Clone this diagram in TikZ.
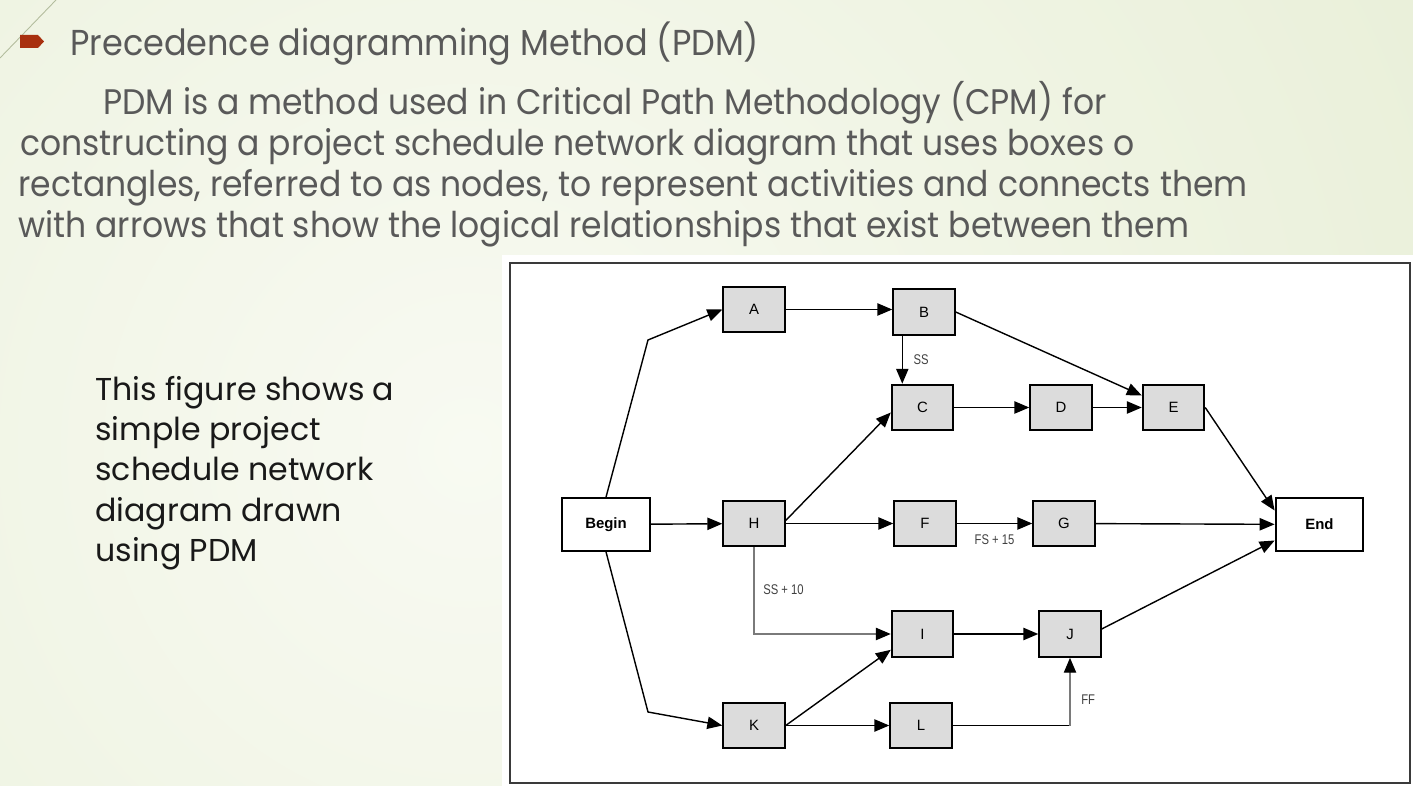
\documentclass[tikz,border=0pt]{standalone}
\usepackage{fontspec}
\usetikzlibrary{arrows.meta,calc}
\newfontfamily\gothic[FakeStretch=0.93]{Poppins}
\newfontfamily\gothicwide{Poppins}
\newfontfamily\helv{Liberation Sans}
\newfontfamily\narrowfont[FakeStretch=0.8]{Liberation Sans}
\definecolor{bgpale}{HTML}{F8FAF2}
\definecolor{bggreen}{HTML}{DAE5BF}
\definecolor{bodygray}{HTML}{595959}
\definecolor{bulletred}{HTML}{A8300F}
\definecolor{boxgray}{HTML}{DCDCDC}
\definecolor{framegray}{HTML}{3A3A3A}
\definecolor{linkgray}{HTML}{7A7A7A}
\tikzset{
  slidetext/.style={anchor=base west, inner sep=0pt, text=bodygray,
    font=\gothic\fontsize{20.2}{24}\selectfont},
  sidetext/.style={anchor=base west, inner sep=0pt, text=black!90,
    font=\gothicwide\fontsize{18}{21}\selectfont},
  act/.style={draw=black, line width=1.1pt, fill=boxgray, minimum width=35pt,
    minimum height=26pt, inner sep=0pt, font=\helv\fontsize{8.5}{10}\selectfont},
  term/.style={draw=black, line width=1.1pt, fill=white, minimum width=50pt,
    minimum height=30pt, inner sep=0pt, font=\helv\bfseries\fontsize{8.5}{10}\selectfont},
  link/.style={line width=0.8pt, -{Triangle[length=8.5pt,width=7pt,color=black]}},
  rel/.style={inner sep=0pt, text=black!75, font=\narrowfont\fontsize{8}{9}\selectfont}
}
\begin{document}
\begin{tikzpicture}[x=0.02cm, y=-0.02cm]
\useasboundingbox (0,0) rectangle (1413,786);
% slide background
\begin{scope}
  \clip (0,0) rectangle (1413,786);
  \fill[bggreen] (0,0) rectangle (1413,786);
  \shade[inner color=bgpale, outer color=bggreen] (470,450) circle (2200);
\end{scope}
\draw[color=black!18!bggreen, line width=0.5pt] (0,58) -- (56,0);

% heading with bullet
\fill[bulletred] (20,35) -- (38,35) -- (44,41.5) -- (38,48) -- (20,48) -- cycle;
\node[slidetext, font=\gothic\fontsize{20.5}{24}\selectfont] (title) at (70,56) {Precedence diagramming Method (PDM)};
\node[slidetext] (p1) at (103,115) {PDM is a method used in Critical Path Methodology (CPM) for};
\node[slidetext] (p2) at (20,156) {constructing a project schedule network diagram that uses boxes o};
\node[slidetext] (p3) at (18,197) {rectangles, referred to as nodes, to represent activities and connects them};
\node[slidetext] (p4) at (18,238) {with arrows that show the logical relationships that exist between them};

% side caption
\node[sidetext] (s1) at (95,401) {This figure shows a};
\node[sidetext] (s2) at (95,441) {simple project};
\node[sidetext] (s3) at (95,481) {schedule network};
\node[sidetext] (s4) at (95,522) {diagram drawn};
\node[sidetext] (s5) at (95,562) {using PDM};

% figure panel
\fill[white] (502,255) rectangle (1413,786);
\draw[framegray, line width=1.2pt] (510,263) rectangle (1410,783);

% activities
\node[term] (Begin) at (606,524.5) {Begin};
\node[term] (End)   at (1319.5,524.5) {End};
\node[act] (A) at (754,309.5) {A};
\node[act] (B) at (924,312) {B};
\node[act] (C) at (922.5,407.5) {C};
\node[act] (D) at (1061,407.5) {D};
\node[act] (E) at (1173.5,407.5) {E};
\node[act] (H) at (754,523.5) {H};
\node[act] (F) at (925,523.5) {F};
\node[act] (G) at (1064,523.5) {G};
\node[act] (I) at (922.5,634) {I};
\node[act] (J) at (1070,634) {J};
\node[act] (K) at (754,725.5) {K};
\node[act] (L) at (921,725.5) {L};

% bend points
\coordinate (ba) at (648,340);
\coordinate (bk) at (648,712);
\coordinate (bs) at ($(B.south west)+(10,0)$);
\coordinate (ljc) at (L.east -| J.south);

% dependencies
\draw[link] (Begin.north) -- (ba) -- (A.west);
\draw[link] (Begin.south) -- (bk) -- (K.west);
\draw[link] (Begin) -- (H);
\draw[link] (A.east) -- (A.east -| B.west);
\draw[link] (B.east) -- ($(E.west)+(0,-12)$);
\draw[link] (bs) -- (bs |- C.north) node[rel, pos=0.5, anchor=west, xshift=6pt] (lss) {SS};
\draw[link] (C) -- (D);
\draw[link] (D) -- (E);
\draw[link] ($(H.east)+(0,-3)$) -- ($(C.west)+(0,5)$);
\draw[link] (H) -- (F);
\draw[link] (F) -- (G) node[rel, pos=0.5, below=6pt] (lfs) {FS + 15};
\draw[link] (G) -- (End);
\draw[link] (E.east) -- ($(End.west)+(0,-14)$);
\draw[link] ($(J.east)+(0,-5)$) -- ($(End.west)+(0,16)$);
\draw[link, linkgray] (H.south) -- (H.south |- I.west) -- (I.west);
\node[rel, anchor=west] (lss10) at (763,590) {SS + 10};
\draw[link] (I) -- (J);
\draw[link] (K.east) -- ($(I.south west)+(0,-8)$);
\draw[link] (K) -- (L);
\draw[line width=0.8pt] (L.east) -- (ljc);
\draw[link, linkgray] (ljc) -- (J.south);
\node[rel, anchor=west] (lff) at (1081,700) {FF};
\end{tikzpicture}
\end{document}
